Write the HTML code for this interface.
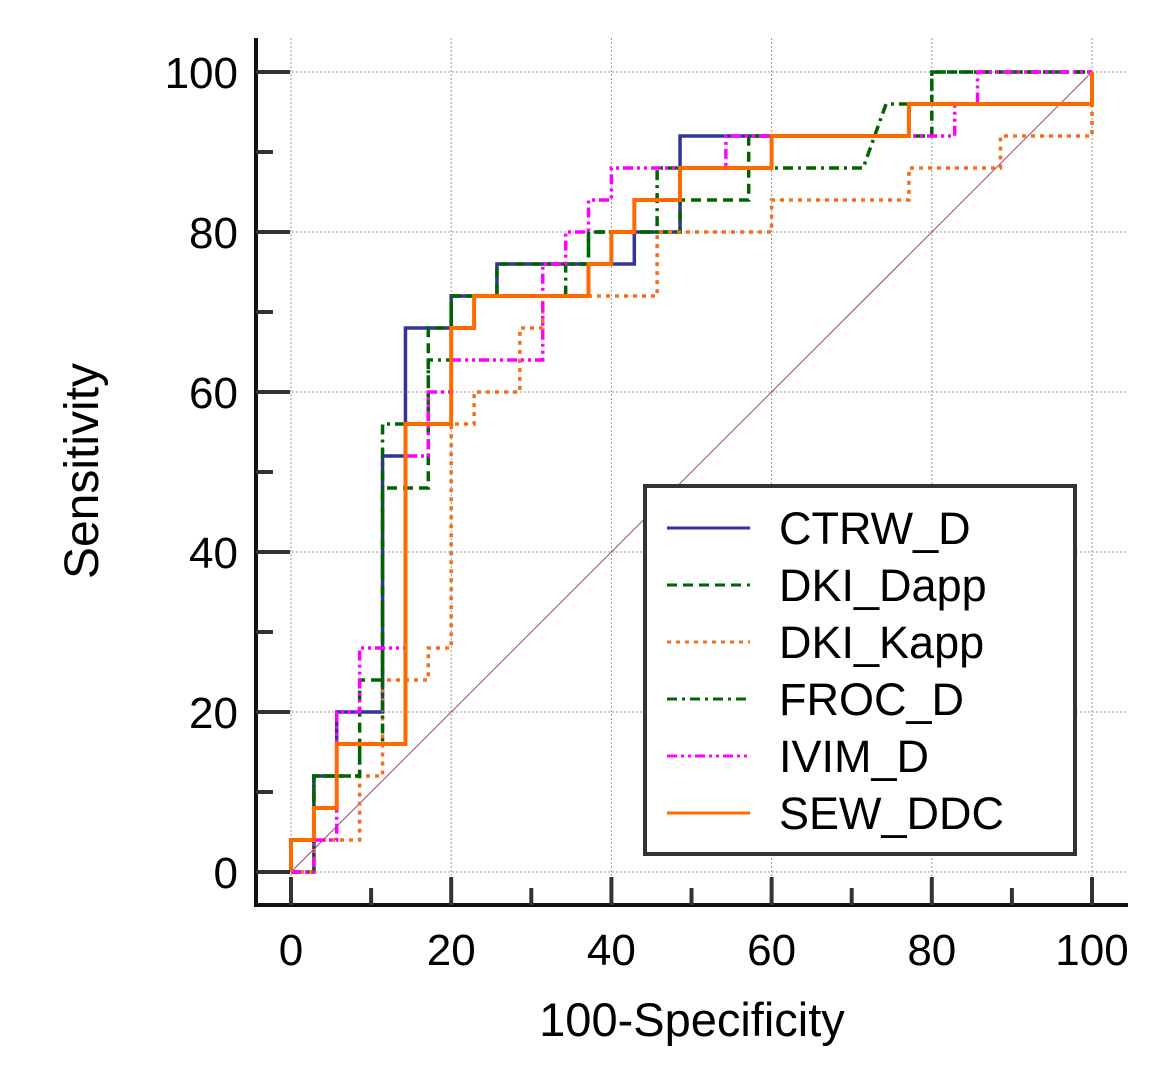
<!DOCTYPE html>
<html><head><meta charset="utf-8"><style>
html,body{margin:0;padding:0;background:#fff;}
svg{display:block;font-family:"Liberation Sans",Arial,sans-serif;}
</style></head><body>
<svg id="chart" width="1165" height="1075" viewBox="0 0 1165 1075">
<g id="grid"></g>
<line x1="291" y1="872" x2="1092" y2="72" stroke="#a04870" stroke-width="1"/>
<g id="series"></g>
<g id="axes"></g>
<text x="98" y="471" font-size="48" text-anchor="middle" transform="rotate(-90 98 471)">Sensitivity</text>
<text x="692" y="1036" font-size="47" text-anchor="middle">100-Specificity</text>
<g id="legend"></g>
</svg>
<script>
const xTicks=[0,20,40,60,80,100];
const yTicks=[0,20,40,60,80,100];
const seriesNames=["CTRW_D","DKI_Dapp","DKI_Kapp","FROC_D","IVIM_D","SEW_DDC"];
const ctrwX=[0,0,2.86,2.86,5.71,5.71,11.43,11.43,14.29,14.29,20,20,25.71,25.71,42.86,42.86,48.57,48.57,77.14,77.14,100,100];
const ctrwY=[0,4,4,12,12,20,20,52,52,68,68,72,72,76,76,80,80,92,92,96,96,100];
const dappX=[0,2.86,2.86,8.57,8.57,11.43,11.43,17.14,17.14,20,20,25.71,25.71,37.14,37.14,48.57,48.57,57.14,57.14,80,80,100];
const dappY=[0,0,12,12,24,24,48,48,68,68,72,72,76,76,80,80,84,84,92,92,100,100];
const kappX=[0,2.86,2.86,8.57,8.57,11.43,11.43,17.14,17.14,20,20,22.86,22.86,28.57,28.57,31.43,31.43,45.71,45.71,60,60,77.14,77.14,88.57,88.57,100,100];
const kappY=[0,0,4,4,12,12,24,24,28,28,56,56,60,60,68,68,72,72,80,80,84,84,88,88,92,92,96];
const frocX=[0,2.86,2.86,8.57,8.57,11.43,11.43,17.14,17.14,20,20,34.29,34.29,37.14,37.14,45.71,45.71,71.43,74.29,80,80,100];
const frocY=[0,0,12,12,16,16,56,56,64,64,72,72,76,76,80,80,88,88,96,96,100,100];
const ivimX=[0,2.86,2.86,5.71,5.71,8.57,8.57,14.29,14.29,17.14,17.14,20,20,31.43,31.43,34.29,34.29,37.14,37.14,40,40,54.29,54.29,82.86,82.86,85.71,85.71,100];
const ivimY=[0,0,4,4,20,20,28,28,52,52,60,60,64,64,76,76,80,80,84,84,88,88,92,92,96,96,100,100];
const sewX=[0,0,2.86,2.86,5.71,5.71,14.29,14.29,20,20,22.86,22.86,37.14,37.14,40,40,42.86,42.86,48.57,48.57,60,60,77.14,77.14,100,100];
const sewY=[0,4,4,8,8,16,16,56,56,68,68,72,72,76,76,80,80,84,84,88,88,92,92,96,96,100];

const NS="http://www.w3.org/2000/svg";
const sx=v=>291+v*8.01, sy=v=>872-v*8.0;
function mk(tag,attrs,parent){const e=document.createElementNS(NS,tag);for(const k in attrs)e.setAttribute(k,attrs[k]);parent.appendChild(e);return e;}
const grid=document.getElementById('grid'),axes=document.getElementById('axes'),ser=document.getElementById('series'),leg=document.getElementById('legend');
xTicks.forEach(t=>{const l=mk('line',{x1:sx(t),x2:sx(t),y1:38,y2:905,stroke:'#999','stroke-width':1,'stroke-dasharray':'2,2'},grid);

});
yTicks.forEach(t=>{const l=mk('line',{x1:256,x2:1128,y1:sy(t),y2:sy(t),stroke:'#999','stroke-width':1,'stroke-dasharray':'2,2'},grid);

});
mk('line',{x1:256,x2:256,y1:38,y2:907,stroke:'#111','stroke-width':4},axes);
mk('line',{x1:254,x2:1128,y1:905,y2:905,stroke:'#111','stroke-width':4},axes);
for(let v=0;v<=100;v+=10){const major=v%20===0;
const a=mk('line',{x1:256,x2:major?290:273,y1:sy(v),y2:sy(v),stroke:'#333','stroke-width':4},axes);


const b=mk('line',{x1:sx(v),x2:sx(v),y1:905,y2:major?877:888,stroke:'#333','stroke-width':4},axes);

}
yTicks.forEach(t=>{const e=mk('text',{x:238,y:sy(t)+16,'font-size':44,'text-anchor':'end'},axes);e.textContent=t;

});
xTicks.forEach(t=>{const e=mk('text',{x:sx(t),y:965,'font-size':44,'text-anchor':'middle'},axes);e.textContent=t;

});
const styles=[
 {xs:ctrwX,ys:ctrwY,c:'#333399',w:3.5,d:''},
 {xs:dappX,ys:dappY,c:'#006400',w:3.5,d:'10,6'},
 {xs:kappX,ys:kappY,c:'#f07020',w:3.5,d:'4,5'},
 {xs:frocX,ys:frocY,c:'#006400',w:3.5,d:'10,5,3,5'},
 {xs:ivimX,ys:ivimY,c:'#ff00ff',w:3.5,d:'10,4,3,4,3,4'},
 {xs:sewX,ys:sewY,c:'#ff6a00',w:4,d:''}];
styles.forEach((s,i)=>{const pts=s.xs.map((x,j)=>sx(x)+','+sy(s.ys[j])).join(' ');
const p=mk('polyline',{points:pts,fill:'none',stroke:s.c,'stroke-width':s.w,'stroke-dasharray':s.d},ser);

});
const box=mk('rect',{x:645,y:486,width:430,height:368,fill:'#fff',stroke:'#333','stroke-width':4},leg);


styles.forEach((s,i)=>{const y=528+i*57;
const l=mk('line',{x1:667,x2:750,y1:y,y2:y,stroke:s.c,'stroke-width':3,'stroke-dasharray':s.d},leg);


const t=mk('text',{x:779,y:y+16,'font-size':45},leg);t.textContent=seriesNames[i];

});
</script>
</body></html>
